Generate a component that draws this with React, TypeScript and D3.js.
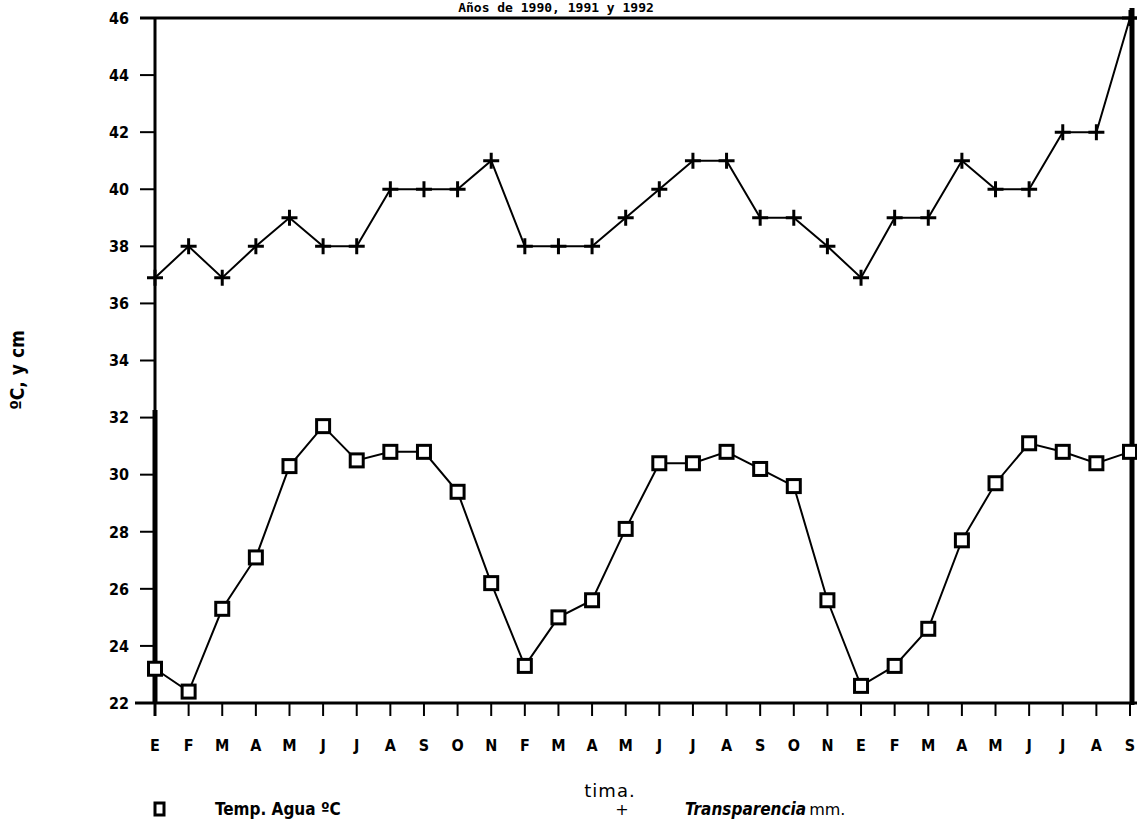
import React, { useEffect, useRef } from 'react';
import * as d3 from 'd3';

const months = ['E', 'F', 'M', 'A', 'M', 'J', 'J', 'A', 'S', 'O', 'N', 'F', 'M', 'A', 'M', 'J', 'J', 'A', 'S', 'O', 'N', 'E', 'F', 'M', 'A', 'M', 'J', 'J', 'A', 'S'];
const tempAgua = [23.2, 22.4, 25.3, 27.1, 30.3, 31.7, 30.5, 30.8, 30.8, 29.4, 26.2, 23.3, 25.0, 25.6, 28.1, 30.4, 30.4, 30.8, 30.2, 29.6, 25.6, 22.6, 23.3, 24.6, 27.7, 29.7, 31.1, 30.8, 30.4, 30.8];
const transparencia = [36.9, 38, 36.9, 38, 39, 38, 38, 40, 40, 40, 41, 38, 38, 38, 39, 40, 41, 41, 39, 39, 38, 36.9, 39, 39, 41, 40, 40, 42, 42, 46];
const yTicks = [22, 24, 26, 28, 30, 32, 34, 36, 38, 40, 42, 44, 46];

const title = 'Años de 1990, 1991 y 1992';
const yLabel = 'ºC, y cm';
const xLabel = 'tima.';

const W = 1137;
const H = 822;
const FONT = '"Liberation Sans Narrow", "DejaVu Sans Condensed", sans-serif';

export default function App() {
    const svgRef = useRef<SVGSVGElement>(null);

    useEffect(() => {
        if (!svgRef.current) return;
        const svg = d3.select(svgRef.current);
        svg.selectAll('*').remove();

        const x = d3.scalePoint<number>()
            .domain(months.map((_, i) => i))
            .range([155, 1130]);
        const y = d3.scaleLinear().domain([22, 46]).range([703, 18]);

        // title, squeezed above the frame
        svg.append('text')
            .attr('x', 556)
            .attr('y', 12)
            .attr('text-anchor', 'middle')
            .attr('font-family', '"DejaVu Sans Mono", monospace')
            .attr('font-weight', 'bold')
            .attr('font-size', 13)
            .attr('fill', '#000')
            .text(title);

        // frame: top and right
        svg.append('line').attr('x1', 140).attr('x2', W).attr('y1', 18).attr('y2', 18)
            .attr('stroke', '#000').attr('stroke-width', 3);
        svg.append('line').attr('x1', 1132).attr('x2', 1132).attr('y1', 8).attr('y2', 705)
            .attr('stroke', '#000').attr('stroke-width', 5);

        // left axis
        svg.append('line').attr('x1', 155).attr('x2', 155).attr('y1', 18).attr('y2', 716)
            .attr('stroke', '#000').attr('stroke-width', 3);
        svg.append('line').attr('x1', 155).attr('x2', 155).attr('y1', 410).attr('y2', 703)
            .attr('stroke', '#000').attr('stroke-width', 5);
        yTicks.forEach(t => {
            svg.append('line')
                .attr('x1', 140).attr('x2', 155)
                .attr('y1', y(t)).attr('y2', y(t))
                .attr('stroke', '#000').attr('stroke-width', 2);
            svg.append('text')
                .attr('x', 129)
                .attr('y', y(t))
                .attr('dy', '0.36em')
                .attr('text-anchor', 'end')
                .attr('font-family', FONT)
                .attr('font-weight', 'bold')
                .attr('font-size', 16)
                .text(t);
        });

        // bottom axis
        svg.append('line').attr('x1', 135).attr('x2', W).attr('y1', 703).attr('y2', 703)
            .attr('stroke', '#000').attr('stroke-width', 3);
        months.forEach((m, i) => {
            const xi = x(i) as number;
            svg.append('line')
                .attr('x1', xi).attr('x2', xi)
                .attr('y1', 703).attr('y2', 716)
                .attr('stroke', '#000').attr('stroke-width', 2);
            svg.append('text')
                .attr('x', xi)
                .attr('y', 751)
                .attr('text-anchor', 'middle')
                .attr('font-family', FONT)
                .attr('font-weight', 'bold')
                .attr('font-size', 16)
                .text(m);
        });

        // axis titles
        svg.append('text')
            .attr('transform', 'translate(24, 370) rotate(-90)')
            .attr('text-anchor', 'middle')
            .attr('font-family', FONT)
            .attr('font-weight', 'bold')
            .attr('font-size', 19)
            .text(yLabel);
        svg.append('text')
            .attr('x', 610)
            .attr('y', 797)
            .attr('text-anchor', 'middle')
            .attr('font-family', '"DejaVu Sans", sans-serif')
            .attr('font-size', 18)
            .attr('letter-spacing', 1)
            .text(xLabel);

        const line = d3.line<number>()
            .x((_, i) => x(i) as number)
            .y(d => y(d));

        // Transparencia
        svg.append('path')
            .datum(transparencia)
            .attr('d', line)
            .attr('fill', 'none')
            .attr('stroke', '#000')
            .attr('stroke-width', 2);
        transparencia.forEach((v, i) => {
            const cx = x(i) as number;
            const cy = y(v);
            svg.append('path')
                .attr('d', `M${cx - 8},${cy}H${cx + 8}M${cx},${cy - 8}V${cy + 8}`)
                .attr('stroke', '#000')
                .attr('stroke-width', 3);
        });

        // Temp. Agua
        svg.append('path')
            .datum(tempAgua)
            .attr('d', line)
            .attr('fill', 'none')
            .attr('stroke', '#000')
            .attr('stroke-width', 2);
        tempAgua.forEach((v, i) => {
            const cx = x(i) as number;
            const cy = y(v);
            svg.append('rect')
                .attr('x', cx - 6.5).attr('y', cy - 6.5)
                .attr('width', 13).attr('height', 13)
                .attr('fill', '#fff')
                .attr('stroke', '#000')
                .attr('stroke-width', 3);
        });

        // legend
        svg.append('rect')
            .attr('x', 155).attr('y', 803)
            .attr('width', 9).attr('height', 12)
            .attr('fill', '#fff')
            .attr('stroke', '#000')
            .attr('stroke-width', 3);
        svg.append('text')
            .attr('x', 215)
            .attr('y', 815)
            .attr('font-family', FONT)
            .attr('font-weight', 'bold')
            .attr('font-size', 17)
            .text('Temp. Agua ºC');
        svg.append('text')
            .attr('x', 622)
            .attr('y', 815)
            .attr('text-anchor', 'middle')
            .attr('font-family', '"DejaVu Sans", sans-serif')
            .attr('font-size', 16)
            .text('+');
        const leg2 = svg.append('text')
            .attr('x', 685)
            .attr('y', 815)
            .attr('font-size', 17);
        leg2.append('tspan')
            .attr('font-family', FONT)
            .attr('font-weight', 'bold')
            .attr('font-style', 'italic')
            .text('Transparencia');
        leg2.append('tspan')
            .attr('font-family', '"DejaVu Sans", sans-serif')
            .attr('font-size', 16)
            .attr('dx', 3)
            .text('mm.');
    }, []);

    return (
        <svg
            ref={svgRef}
            width={W}
            height={H}
            style={{ position: 'absolute', left: 0, top: 0, background: '#fff' }}
        />
    );
}
